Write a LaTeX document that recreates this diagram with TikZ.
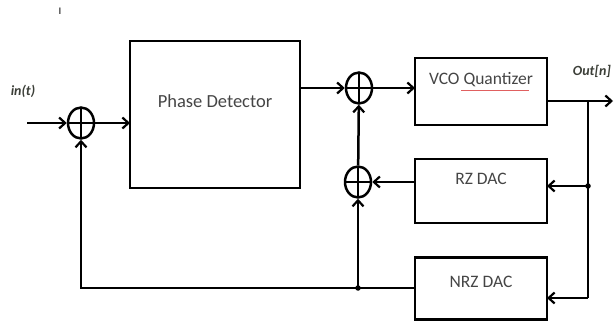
\documentclass[tikz,border=0pt]{standalone}
\usepackage{fontspec}
\setmainfont{Carlito}
\usepackage{xcolor}
\usepackage{tikz}
\usetikzlibrary{positioning, arrows.meta, shapes.geometric}
\definecolor{txtGray}{HTML}{454545}
\definecolor{lblGray}{HTML}{3c3f38}
\definecolor{spellRed}{HTML}{e06060}

\begin{document}
\begin{tikzpicture}[x=1pt, y=-1pt, line width=2.5pt,
  blk/.style={draw, rectangle, inner sep=0pt, outer sep=0pt, text height=12pt, text depth=25pt, font=\fontsize{17.5}{17.5}\selectfont, text=txtGray},
  sumnode/.style={draw, ellipse, minimum width=26pt, minimum height=31pt, inner sep=0pt, path picture={\draw[line width=1.6pt] (path picture bounding box.north) -- (path picture bounding box.south) (path picture bounding box.west) -- (path picture bounding box.east);}},
  arr/.style={-{Straight Barb[length=6pt, width=11pt, line width=2.2pt]}},
  sig/.style={font=\fontsize{14}{14}\selectfont\bfseries\itshape, text=lblGray},
  dot/.style={circle, fill, inner sep=0pt, minimum size=5.5pt}]
\useasboundingbox (0,0) rectangle (615,323);
\node[font=\fontsize{10}{10}\selectfont\bfseries, text=txtGray] (tick) at (60,11) {I};
% blocks
\node[blk, minimum width=170pt, minimum height=147pt, font=\fontsize{18.5}{18.5}\selectfont] (pd) at (215,114.5) {Phase Detector};
\node[blk, minimum width=132pt, minimum height=67pt] (vco) at (481,91.5) {VCO Quantizer};
\node[blk, minimum width=132pt, minimum height=64pt] (rz) at (481,191) {RZ DAC};
\node[blk, minimum width=132pt, minimum height=62pt, text depth=15pt] (nrz) at (481,288.5) {NRZ DAC};
% summing points
\node[sumnode] (s1) at (81,123) {};
\node[sumnode] (s2) at (359,88) {};
\node[sumnode] (s3) at (358,182) {};
\coordinate (in) at (27,123);
\coordinate (out) at (613,101);
\coordinate (br) at (588,101);
\coordinate (brr) at (588,186);
\coordinate (brn) at (588,298);
\coordinate (j) at (358,288);
\node[dot] (dr) at (brr) {};
\node[dot] (dj) at (j) {};
\node[sig] (inlbl) at (23,91) {in(t)};
\node[sig] (outlbl) at (592,71) {Out[n]};
\draw[spellRed, line width=0.6pt] (461,90) -- (529,90);
% forward path
\draw[arr] (in) -- (s1);
\draw[arr] (s1) -- (s1 -| pd.west);
\draw[arr] (pd.east |- s2) -- (s2);
\draw[arr] (s2) -- (s2 -| vco.west);
\draw[arr] (vco.east |- out) -- (out);
% feedback
\draw (br) -- (brn);
\draw[arr] (brr) -- (brr -| rz.east);
\draw[arr] (brn) -- (brn -| nrz.east);
\draw[arr] (rz.west |- s3) -- (s3);
\draw[arr] (s3) -- (s2);
\draw[arr] (nrz.west |- j) -- (j) -| (s1);
\draw[arr] (j) -- (s3);
\end{tikzpicture}
\end{document}
